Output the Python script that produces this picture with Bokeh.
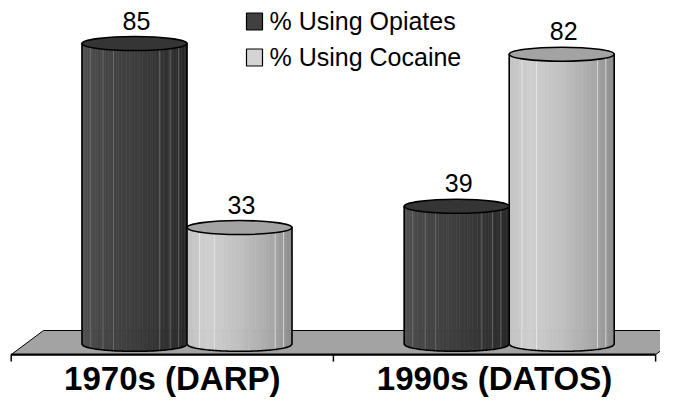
import numpy as np
from bokeh.plotting import figure
from bokeh.models import Range1d
from bokeh.core.properties import value
from bokeh.embed import file_html
from bokeh.resources import INLINE

# ---------------- data ----------------
categories = ["1970s (DARP)", "1990s (DATOS)"]
series_names = ["% Using Opiates", "% Using Cocaine"]
opiates = [85, 39]
cocaine = [33, 82]

# ---------------- layout / style ----------------
W, H = 660, 398
PX_X = 322.2          # px per category slot
X0_PX = 10.7          # figure px of category boundary 0
PX_Y = 3.538          # px per value unit
SHIFT_Y = 3           # whole chart drawn this many px higher than the reference
Y0_PX = 346.8 - SHIFT_Y  # figure px (from top) of value 0
x_start = -X0_PX / PX_X
x_end = x_start + W / PX_X
y_end = Y0_PX / PX_Y
y_start = y_end - H / PX_Y


def sx(px):  # reference px -> data x
    return x_start + px / PX_X


def sy(py):  # reference px -> data y
    return y_end - (py - SHIFT_Y) / PX_Y


BAR_W = 105 / PX_X
DEPTH = 14.7 / PX_X
ELL_PX = 14
FONT = "Liberation Sans"

DARK_PROFILE = [(0.0, "#525252"), (0.15, "#474747"), (0.5, "#3d3d3d"), (0.85, "#303030"), (1.0, "#282828")]
LIGHT_PROFILE = [(0.0, "#c2c2c2"), (0.2, "#d0d0d0"), (0.5, "#c0c0c0"), (0.8, "#a9a9a9"), (1.0, "#8c8c8c")]
DARK_TOP, LIGHT_TOP = "#353535", "#a3a3a3"
DARK_HL = [0.08, 0.2, 0.3, 0.74, 0.84, 0.92]
LIGHT_HL = [0.12, 0.26, 0.84, 0.92]
DARK_LEG, LIGHT_LEG = "#404040", "#d4d4d4"
FLOOR = "#a3a3a3"


def hex2rgb(h):
    return np.array([int(h[i:i + 2], 16) for i in (1, 3, 5)], dtype=float)


def shade(profile, t):
    for (t0, c0), (t1, c1) in zip(profile[:-1], profile[1:]):
        if t0 <= t <= t1:
            f = (t - t0) / (t1 - t0)
            c = hex2rgb(c0) * (1 - f) + hex2rgb(c1) * f
            return "#%02x%02x%02x" % tuple(int(round(v)) for v in c)
    return profile[-1][1]


p = figure(width=W, height=H, output_backend="svg", toolbar_location=None,
           x_range=Range1d(x_start, x_end), y_range=Range1d(y_start, y_end),
           x_axis_type=None, y_axis_type=None, min_border=0,
           outline_line_color=None, background_fill_color="white")

# ---------------- floor ----------------
yb = -10.3 / PX_Y
yt = 13.8 / PX_Y
depth_off = 32.3 / PX_X
n_cat = len(categories)
p.patch([0, n_cat, n_cat + depth_off, depth_off], [yb, yb, yt, yt],
        fill_color=FLOOR, line_color="black", line_width=1)
# axis line and ticks
p.segment(x0=[0], y0=[yb], x1=[n_cat], y1=[yb], line_color="black", line_width=2.2)
ticks = list(range(n_cat + 1))
p.segment(x0=ticks, y0=[yb] * len(ticks), x1=ticks, y1=[yb - 7 / PX_Y] * len(ticks),
          line_color="black", line_width=1.5)


# ---------------- cylinders ----------------
def cylinder(xc, val, profile, top_color, hls, hl_color):
    n = 40
    rx = BAR_W / 2
    ry = ELL_PX / 2 / PX_Y
    edges = np.linspace(-rx, rx, n + 1)
    xs, ys, cols = [], [], []
    for i in range(n):
        seg = np.linspace(edges[i], edges[i + 1], 4)
        bottom = -ry * np.sqrt(np.clip(1 - (seg / rx) ** 2, 0, 1))
        xs.append(list(xc + seg) + [xc + edges[i + 1], xc + edges[i]])
        ys.append(list(bottom) + [val, val])
        cols.append(shade(profile, (i + 0.5) / n))
    p.patches(xs, ys, fill_color=cols, line_color=cols, line_width=0.6)
    # highlight lines
    hx = [xc + (h - 0.5) * BAR_W for h in hls]
    hb = [-ry * np.sqrt(max(0.0, 1 - ((x - xc) / rx) ** 2)) for x in hx]
    p.segment(x0=hx, y0=hb, x1=hx, y1=[val] * len(hx), line_color=hl_color,
              line_width=1, line_alpha=0.7)
    # outline
    arc = np.linspace(-rx, rx, 60)
    ox = list(xc + arc) + [xc + rx, xc - rx]
    oy = list(-ry * np.sqrt(np.clip(1 - (arc / rx) ** 2, 0, 1))) + [val, val]
    p.patch(ox, oy, fill_color=None, line_color="black", line_width=1.6)
    # top
    p.ellipse(x=[xc], y=[val], width=BAR_W, height=ELL_PX, height_units="screen",
              fill_color=top_color, line_color="black", line_width=1.6)


centers_op = [i + 0.5 + DEPTH - BAR_W / 2 for i in range(n_cat)]
centers_co = [i + 0.5 + DEPTH + BAR_W / 2 for i in range(n_cat)]
for i in range(n_cat):
    cylinder(centers_op[i], opiates[i], DARK_PROFILE, DARK_TOP, DARK_HL, "#7a7a7a")
    cylinder(centers_co[i], cocaine[i], LIGHT_PROFILE, LIGHT_TOP, LIGHT_HL, "#eeeeee")

# value labels
p.text(x=centers_op + centers_co, y=opiates + cocaine,
       text=[str(v) for v in opiates + cocaine],
       x_offset=2, y_offset=-23, text_align="center", text_baseline="middle",
       text_font=value(FONT), text_font_size="25px", text_color="black")

# category labels
p.text(x=[i + 0.5 for i in range(n_cat)], y=[yb] * n_cat, text=categories,
       y_offset=24, text_align="center", text_baseline="middle",
       text_font=value(FONT), text_font_style="bold", text_font_size="33px",
       text_color="black")

# ---------------- legend ----------------
leg_x = sx(254)
leg_y = [sy(24), sy(60)]
p.rect(x=[leg_x, leg_x], y=leg_y, width=16, height=17, width_units="screen",
       height_units="screen", fill_color=[DARK_LEG, LIGHT_LEG], line_color="black",
       line_width=1.2)
p.text(x=[sx(269)] * 2, y=leg_y, text=series_names, y_offset=-1,
       text_align="left", text_baseline="middle", text_font=value(FONT),
       text_font_size="25px", text_color="black")

open("out.html", "w").write(file_html(p, INLINE))
